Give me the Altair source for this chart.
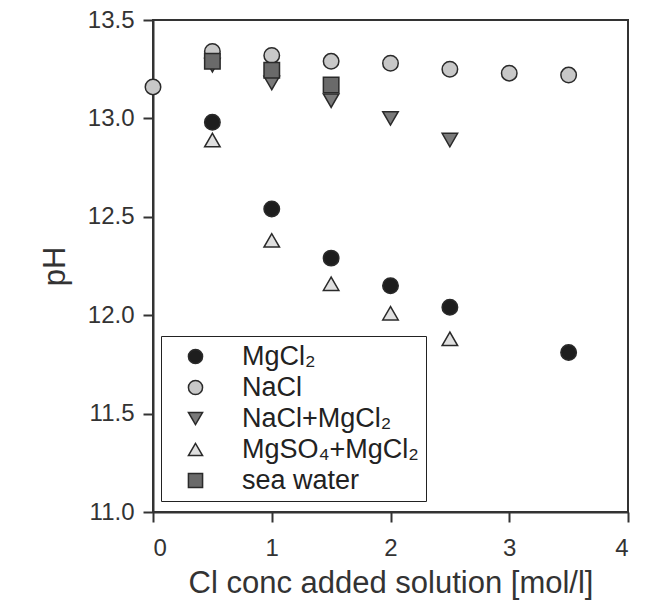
import altair as alt
import pandas as pd

series_names = ["MgCl₂", "NaCl", "NaCl+MgCl₂", "MgSO₄+MgCl₂", "sea water"]

x_mgcl2 = [0.5, 1.0, 1.5, 2.0, 2.5, 3.5]
ph_mgcl2 = [12.98, 12.54, 12.29, 12.15, 12.04, 11.81]

x_nacl = [0.0, 0.5, 1.0, 1.5, 2.0, 2.5, 3.0, 3.5]
ph_nacl = [13.16, 13.34, 13.32, 13.29, 13.28, 13.25, 13.23, 13.22]

x_nacl_mgcl2 = [0.5, 1.0, 1.5, 2.0, 2.5]
ph_nacl_mgcl2 = [13.27, 13.18, 13.09, 13.00, 12.89]

x_mgso4_mgcl2 = [0.5, 1.0, 1.5, 2.0, 2.5]
ph_mgso4_mgcl2 = [12.89, 12.38, 12.16, 12.01, 11.88]

x_sea = [0.5, 1.0, 1.5]
ph_sea = [13.29, 13.245, 13.17]

shapes = ["circle", "circle", "triangle-down", "triangle-up", "square"]
fills = ["#1e1e1e", "#c8c8c8", "#7a7a7a", "#e0e0e0", "#6a6a6a"]
strokes = ["#2a2a2a"] * 5

rows = []
for name, xs, ys in zip(series_names,
                        [x_mgcl2, x_nacl, x_nacl_mgcl2, x_mgso4_mgcl2, x_sea],
                        [ph_mgcl2, ph_nacl, ph_nacl_mgcl2, ph_mgso4_mgcl2, ph_sea]):
    for x, y in zip(xs, ys):
        rows.append({"series": name, "conc": x, "pH": y})
df = pd.DataFrame(rows)

FONT = "Liberation Sans"

legend = alt.Legend(title=None, orient="none", legendX=8, legendY=316)

chart = alt.Chart(df).mark_point(
    filled=True, size=240, strokeWidth=1.5, opacity=1
).encode(
    x=alt.X("conc:Q", title="Cl conc added solution [mol/l]",
            scale=alt.Scale(domain=[0, 4], nice=False, zero=False),
            axis=alt.Axis(values=[0, 1, 2, 3, 4], format="d", grid=False)),
    y=alt.Y("pH:Q", title="pH",
            scale=alt.Scale(domain=[11.0, 13.5], nice=False, zero=False),
            axis=alt.Axis(values=[11.0, 11.5, 12.0, 12.5, 13.0, 13.5], format=".1f", grid=False)),
    shape=alt.Shape("series:N", scale=alt.Scale(domain=series_names, range=shapes),
                    legend=legend),
    fill=alt.Fill("series:N", scale=alt.Scale(domain=series_names, range=fills),
                  legend=legend),
    stroke=alt.Stroke("series:N", scale=alt.Scale(domain=series_names, range=strokes),
                      legend=legend),
    order=alt.Order("idx:Q"),
).transform_calculate(
    idx="indexof(['MgCl₂','NaCl','NaCl+MgCl₂','MgSO₄+MgCl₂','sea water'], datum.series)"
).properties(
    width=475, height=492,
    padding={"left": 31, "top": 0, "right": 5, "bottom": 5},
).configure_view(
    stroke="#333333", strokeWidth=2
).configure_legend(
    strokeColor="#222222", padding=7, symbolOffset=14,
    labelOffset=33, rowPadding=3, labelFontSize=27,
    labelFont=FONT, labelColor="#222222",
    symbolSize=200, symbolStrokeWidth=1.5,
    labelLimit=400,
).configure_axis(
    domainColor="#333333", domainWidth=2, tickColor="#333333", tickWidth=2,
    tickSize=10, labelFont=FONT, labelFontSize=24, labelColor="#333333",
    titleFont=FONT, titleFontSize=31, titleFontWeight="normal", titleColor="#333333",
).configure_axisY(
    titlePadding=16, labelPadding=9,
).configure_axisX(
    titlePadding=8, labelPadding=14,
)

chart.save("out.html", embed_options={"renderer": "svg", "actions": False})
